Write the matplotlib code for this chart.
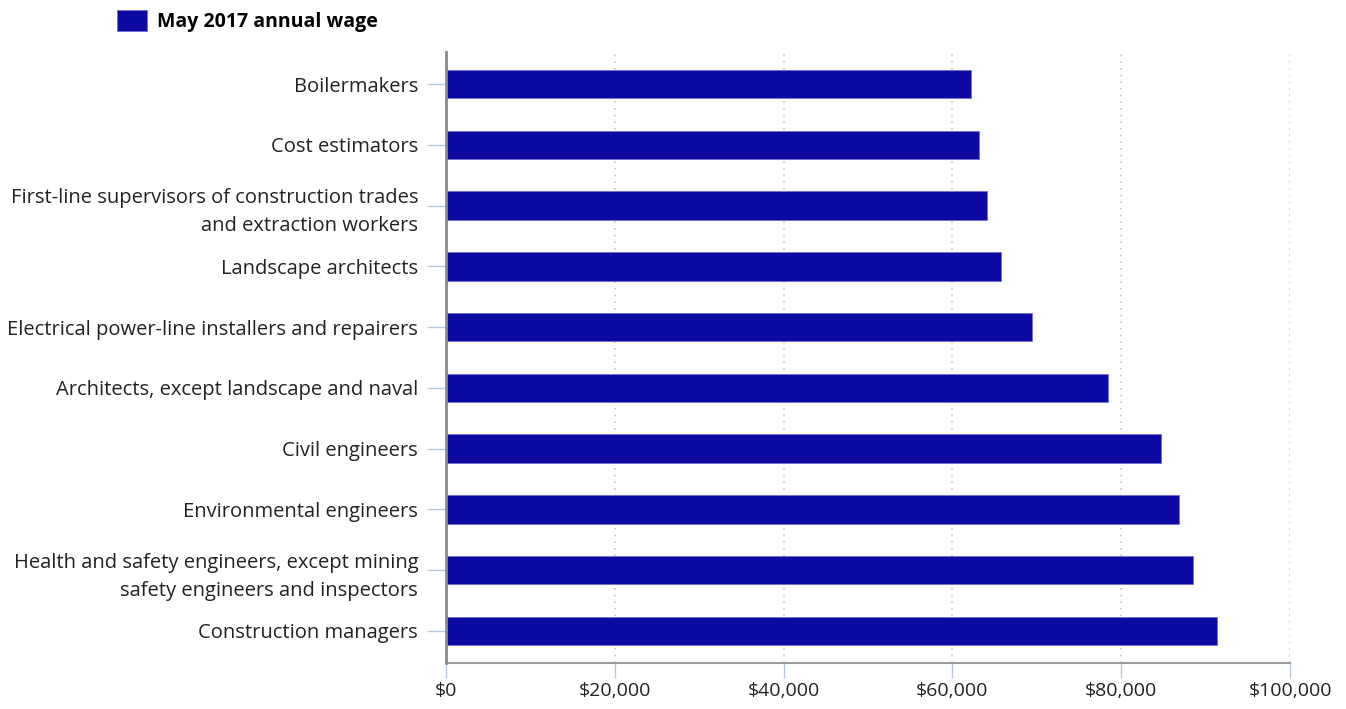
import matplotlib.pyplot as plt
from matplotlib.ticker import FuncFormatter

plt.rcParams['font.family'] = ['Open Sans', 'DejaVu Sans']

# occupations, top to bottom as drawn
occupations = [
    "Boilermakers",
    "Cost estimators",
    "First-line supervisors of construction trades\nand extraction workers",
    "Landscape architects",
    "Electrical power-line installers and repairers",
    "Architects, except landscape and naval",
    "Civil engineers",
    "Environmental engineers",
    "Health and safety engineers, except mining\nsafety engineers and inspectors",
    "Construction managers",
]
wages = [62260, 63110, 64070, 65760, 69380, 78470, 84770, 86800, 88510, 91370]
series_label = "May 2017 annual wage"
x_ticks = [0, 20000, 40000, 60000, 80000, 100000]

bar_color = '#0c0aa0'

fig = plt.figure(figsize=(13.46, 7.09), dpi=100)
ax = fig.add_axes([446 / 1346, 1 - 663 / 709, (1290 - 446) / 1346, (663 - 52) / 709])

ypos = list(range(len(occupations)))
bars = ax.barh(ypos, wages, height=0.47, color=bar_color, edgecolor='#6f6fd8',
               linewidth=0.6, label=series_label, zorder=3)

ax.set_xlim(0, 100000)
ax.set_ylim(len(occupations) - 0.47, -0.53)
ax.set_xticks(x_ticks)
ax.xaxis.set_major_formatter(FuncFormatter(lambda v, p: f"${v:,.0f}"))
ax.set_yticks(ypos)
ax.set_yticklabels(occupations, fontsize=14.5, color='#222222', linespacing=1.55)

ax.tick_params(axis='x', length=11, width=1, color='#b8c8dc', labelsize=14,
               labelcolor='#222222', pad=3)
ax.tick_params(axis='y', length=14, width=1, color='#b8c8dc', pad=6)

ax.grid(axis='x', linestyle=(0, (1, 3)), color='#c8c8c8', linewidth=1.2, zorder=0)

for side in ['top', 'right']:
    ax.spines[side].set_visible(False)
ax.spines['left'].set_color('#8a8a8a')
ax.spines['left'].set_linewidth(2)
ax.spines['bottom'].set_color('#9a9a9a')
ax.spines['bottom'].set_linewidth(1.5)
ax.spines['left'].set_zorder(4)

fig.legend(handles=[bars], loc='upper left', bbox_to_anchor=(117 / 1346, 1 - 10 / 709),
           frameon=False, prop={'weight': 'bold', 'size': 14},
           borderpad=0, borderaxespad=0,
           handlelength=1.55, handleheight=1.3, handletextpad=0.5)

fig.savefig('out.png', dpi=100)
